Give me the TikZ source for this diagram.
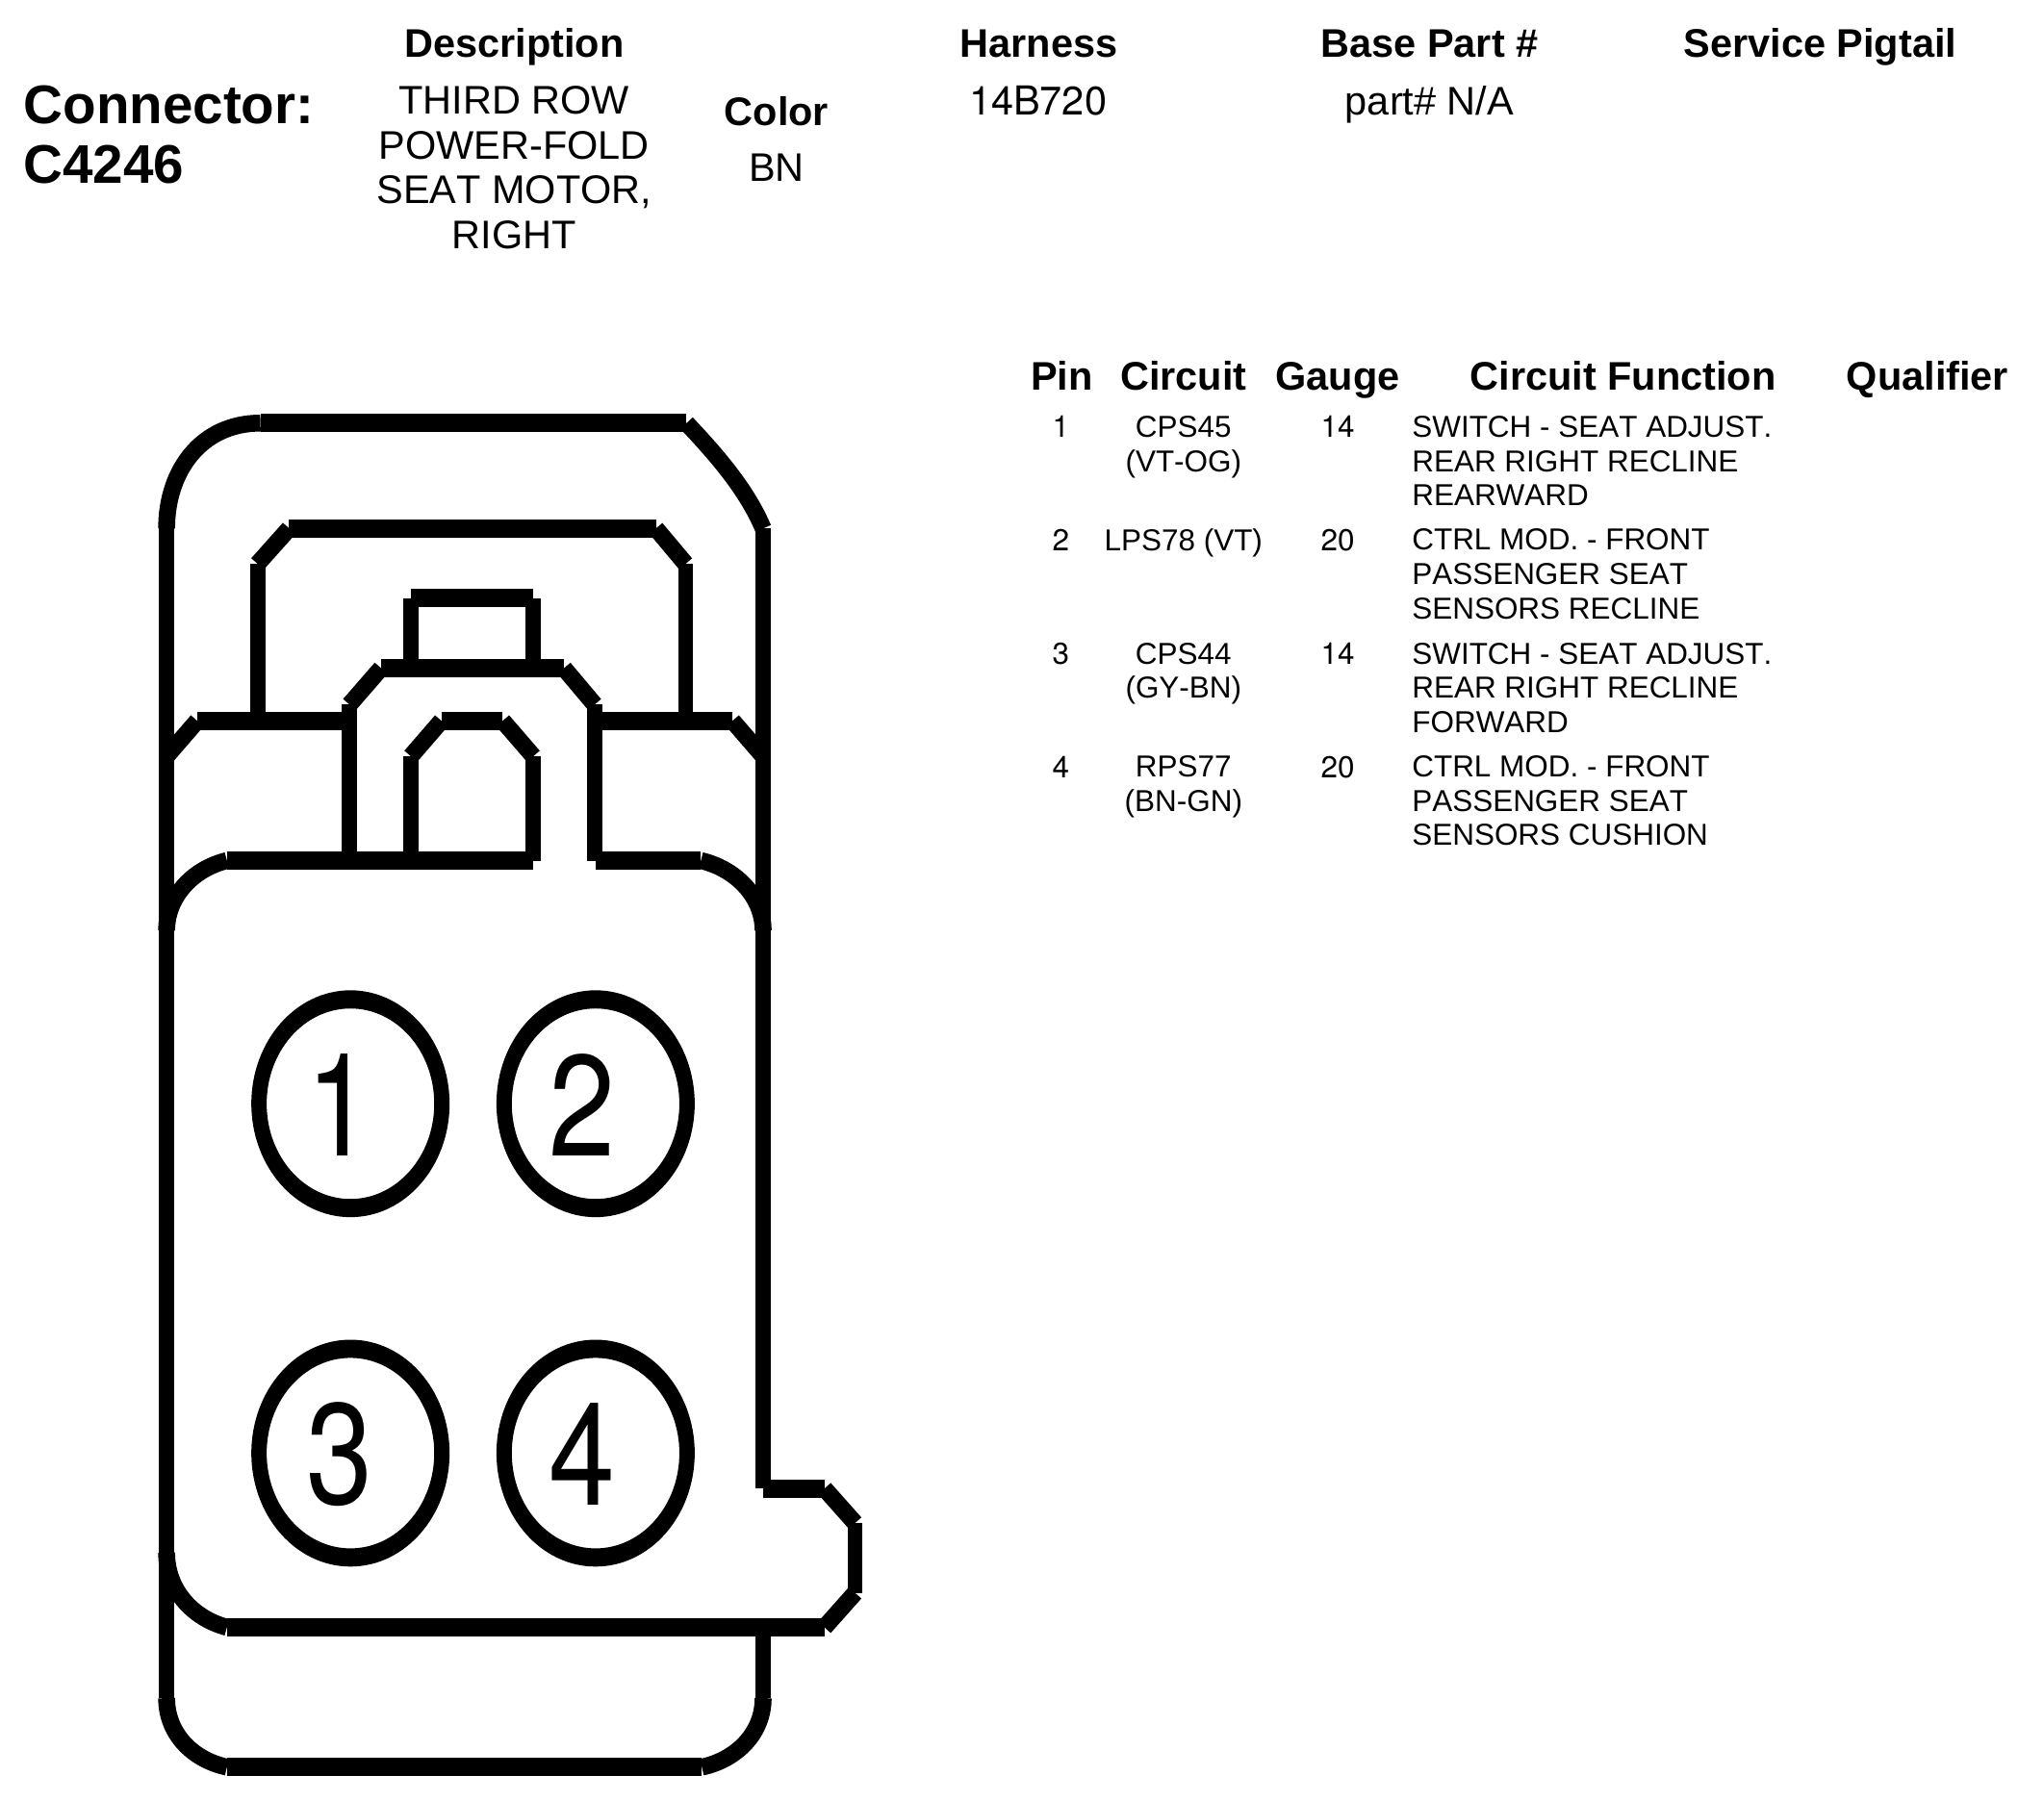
\documentclass[tikz,border=0pt]{standalone}
\usepackage{fontspec}
\setmainfont[Kerning=Off]{Liberation Sans}
\newfontfamily\heros{TeX Gyre Heros}

\begin{document}
\begin{tikzpicture}[x=0.00995cm,y=-0.00995cm]
\tikzstyle{hseg}=[line width=5.4pt]
\tikzstyle{vseg}=[line width=4.5pt]
\tikzstyle{dseg}=[line width=5pt]
\tikzstyle{title}=[font=\bfseries\fontsize{16.1}{18}\selectfont,anchor=west,inner sep=0pt]
\tikzstyle{head}=[font=\bfseries\fontsize{11.8}{13}\selectfont,inner sep=0pt,anchor=base]
\tikzstyle{info}=[font=\fontsize{11.8}{13.2}\selectfont,inner sep=0pt,align=center]
\tikzstyle{cell}=[font=\fontsize{8.95}{10.13}\selectfont,inner sep=0pt,align=center,anchor=north]
\tikzstyle{numcell}=[cell,font=\heros\fontsize{8.95}{10.13}\selectfont]
\tikzstyle{func}=[cell,align=left,anchor=north west]
\tikzstyle{pinnum}=[font=\heros\fontsize{42.5}{42.5}\selectfont,xscale=0.83,inner sep=0pt]
\useasboundingbox (0,0) rectangle (2134.7,1881.4);
%cabecera
\node[title] (conn) at (24,110) {Connector:};
\node[title] (cnum) at (24,172) {C4246};
\node[head] (hdesc) at (537,60) {Description};
\node[head] (hharn) at (1085,60) {Harness};
\node[head] (hbase) at (1493,60) {Base Part \#};
\node[head] (hserv) at (1901,60) {Service Pigtail};
\node[head] (hcolor) at (811,131) {Color};
\node[info] (desc) at (537,175) {THIRD ROW\\POWER-FOLD\\SEAT MOTOR,\\RIGHT};
\node[info] (color) at (811,175) {BN};
\node[info,font=\heros\fontsize{11.8}{13.2}\selectfont] (harn) at (1084,105) {14B720};
\node[info,anchor=base] (base) at (1493,120) {part\# N/A};
%tabla
\node[head] (hpin) at (1109,408) {Pin};
\node[head] (hcirc) at (1236,408) {Circuit};
\node[head] (hgauge) at (1397,408) {Gauge};
\node[head] (hfunc) at (1695,408) {Circuit Function};
\node[head] (hqual) at (2013,408) {Qualifier};
\foreach \n/\ypos/\circ/\ga/\fu in {
  1/434/{CPS45\\(VT-OG)}/14/{SWITCH - SEAT ADJUST.\\REAR RIGHT RECLINE\\REARWARD},
  2/552/{LPS78 (VT)}/20/{CTRL MOD. - FRONT\\PASSENGER SEAT\\SENSORS RECLINE},
  3/671/{CPS44\\(GY-BN)}/14/{SWITCH - SEAT ADJUST.\\REAR RIGHT RECLINE\\FORWARD},
  4/789/{RPS77\\(BN-GN)}/20/{CTRL MOD. - FRONT\\PASSENGER SEAT\\SENSORS CUSHION}}{
  \node[numcell] (pin\n) at (1108,\ypos) {\n};
  \node[cell] (circ\n) at (1236,\ypos) {\circ};
  \node[numcell] (gauge\n) at (1397,\ypos) {\ga};
  \node[func] (func\n) at (1474,\ypos) {\fu};
}
%cuerpo exterior
\draw[vseg] (174,552) -- (174,1774);
\draw[vseg] (797,552) -- (797,1555);
\draw[vseg] (797,1700) -- (797,1774);
\draw[hseg] (272,442) -- (717,442);
\draw[dseg] (272,442) .. controls (210,442) and (174,492) .. (174,552);
\draw[dseg] (717,442) .. controls (750,477) and (780,512) .. (797,552);
%parte interior
\draw[hseg] (302,552) -- (685,552);
\draw[dseg] (302,552) -- (269,589);
\draw[dseg] (685,552) -- (716,589);
\draw[vseg] (269,589) -- (269,753);
\draw[vseg] (716,589) -- (716,753);
\draw[hseg] (206,753) -- (365,753);
\draw[hseg] (621,753) -- (765,753);
\draw[dseg] (206,753) -- (174,790);
\draw[dseg] (765,753) -- (797,790);
%pestillo
\draw[hseg] (429,625) -- (557,625);
\draw[vseg] (429,625) -- (429,698);
\draw[vseg] (557,625) -- (557,698);
\draw[hseg] (398,698) -- (589,698);
\draw[dseg] (398,698) -- (365,736);
\draw[dseg] (589,698) -- (621,736);
\draw[vseg] (365,736) -- (365,899);
\draw[vseg] (621,736) -- (621,899);
\draw[hseg] (461,753) -- (525,753);
\draw[dseg] (461,753) -- (429,790);
\draw[dseg] (525,753) -- (557,790);
\draw[vseg] (429,790) -- (429,899);
\draw[vseg] (557,790) -- (557,899);
\draw[hseg] (237,899) -- (557,899);
\draw[hseg] (622,899) -- (732,899);
\draw[dseg] (237,899) .. controls (200,908) and (174,938) .. (174,972);
\draw[dseg] (732,899) .. controls (770,908) and (797,938) .. (797,972);
%pines
\foreach \n/\xpos/\ypos/\numx in {1/366/1153/355,2/622/1153/608,3/366/1518/355,4/622/1518/608}{
  \fill[even odd rule] (\xpos,\ypos) ellipse [x radius=103.5,y radius=118.5]
    (\xpos,\ypos) ellipse [x radius=87.5,y radius=99.5];
  \node[pinnum] (num\n) at (\numx,\ypos+1) {\n};
}
%parte inferior
\draw[hseg] (797,1555) -- (861,1555);
\draw[dseg] (861,1555) -- (893,1591);
\draw[vseg] (893,1591) -- (893,1664);
\draw[dseg] (893,1664) -- (861,1700);
\draw[hseg] (237,1700) -- (861,1700);
\draw[dseg] (237,1700) .. controls (200,1690) and (174,1660) .. (174,1622);
\draw[dseg] (174,1774) .. controls (174,1810) and (200,1838) .. (237,1846);
\draw[hseg] (237,1846) -- (733,1846);
\draw[dseg] (733,1846) .. controls (770,1838) and (797,1810) .. (797,1774);
\end{tikzpicture}
\end{document}
